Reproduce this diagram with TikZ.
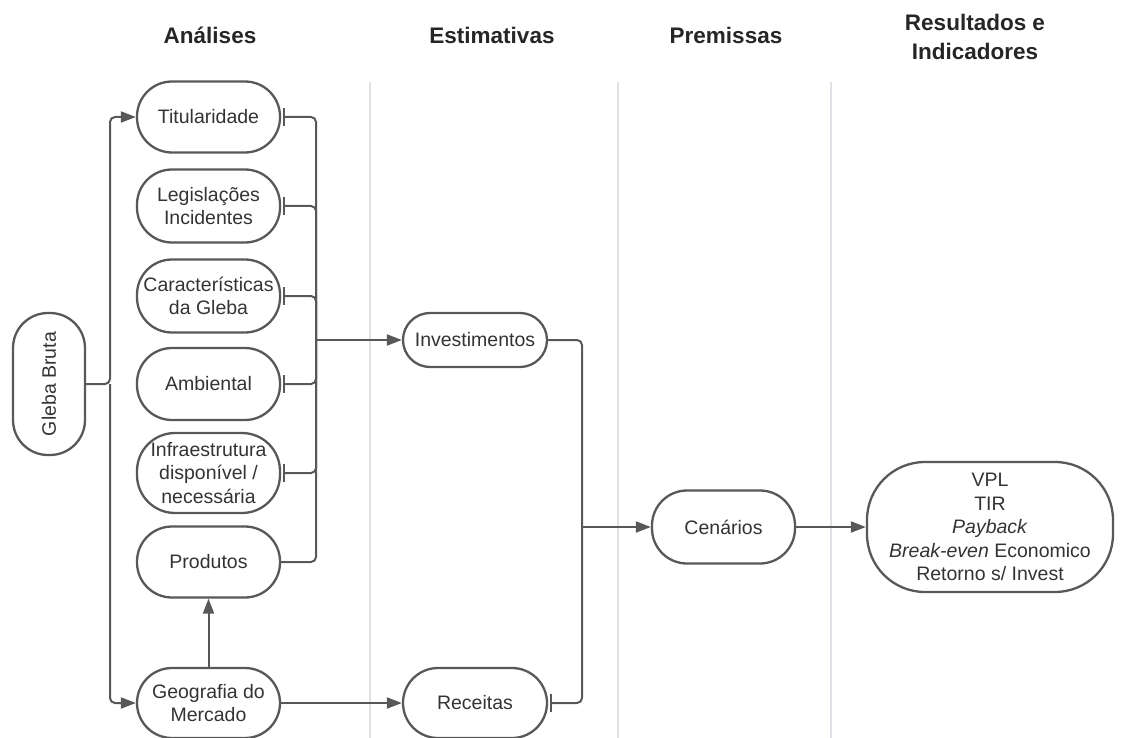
\documentclass[tikz,border=0pt]{standalone}
\usepackage{fontspec}
\setmainfont{Liberation Sans}
\usetikzlibrary{arrows.meta}
\definecolor{linegray}{HTML}{585858}
\definecolor{textgray}{HTML}{333333}
\definecolor{sepcol}{HTML}{DFE1E6}
\tikzset{
  box/.style={draw=linegray, line width=2.3pt, text=textgray, align=center,
    inner sep=1pt, minimum width=143pt, minimum height=71pt, rounded corners=35pt,
    font=\fontsize{19.5}{23.5}\selectfont},
  smallbox/.style={box, minimum height=54pt, rounded corners=27pt},
  hdr/.style={text=black!85, align=center, font=\fontsize{22.5}{29}\selectfont\bfseries},
  conn/.style={draw=linegray, line width=2pt, rounded corners=5pt},
  arr/.style={conn, -{Triangle[length=15pt,width=11pt]}},
  barred/.style={conn, {Bar[width=18pt]}-, shorten <=2pt},
  sepline/.style={draw=sepcol, line width=2.5pt}
}
\begin{document}
\begin{tikzpicture}[x=1pt,y=-1pt]
\useasboundingbox (0,0) rectangle (1140,738);
% separators
\draw[sepline] (370,82) -- (370,738);
\draw[sepline] (618,82) -- (618,738);
\draw[sepline] (831,82) -- (831,738);
% headers
\node[hdr] (h1) at (210,35) {Análises};
\node[hdr] (h2) at (492,35) {Estimativas};
\node[hdr] (h3) at (726,35) {Premissas};
\node[hdr] (h4) at (975,37) {Resultados e\\Indicadores};
% nodes
\node[box, minimum width=72pt, minimum height=142pt, rounded corners=35pt] (gleba) at (49,384) {\rotatebox{90}{Gleba Bruta}};
\node[box] (tit) at (208.5,117) {Titularidade};
\node[box, minimum height=73pt] (leg) at (208.5,206) {Legislações\\Incidentes};
\node[box, minimum height=73pt] (car) at (208.5,296) {Características\\da Gleba};
\node[box, minimum height=72pt] (amb) at (208.5,384) {Ambiental};
\node[box, minimum height=80pt, rounded corners=38pt] (inf) at (208.5,473) {Infraestrutura\\disponível /\\necessária};
\node[box] (prod) at (208.5,562) {Produtos};
\node[box, minimum height=70pt] (geo) at (208.5,703) {Geografia do\\Mercado};
\node[smallbox, minimum width=144pt] (inv) at (475,340) {Investimentos};
\node[box, minimum width=144pt, minimum height=70pt] (rec) at (475,703) {Receitas};
\node[box, minimum height=73pt] (cen) at (723.5,527) {Cenários};
\node[box, minimum width=246pt, minimum height=130pt, rounded corners=58pt] (res) at (990,527)
  {VPL\\TIR\\\textit{Payback}\\\textit{Break-even} Economico\\Retorno s/ Invest};
% connectors
\coordinate (gj) at (110,384);
\coordinate (aj) at (316,340);
\coordinate (ej) at (582,527);
\draw[arr] (gleba.east) -- (gj) |- (tit.west);
\draw[arr] (gj) |- (geo.west);
\draw[barred] (tit.east) -| (aj);
\draw[barred] (leg.east) -| (aj);
\draw[barred] (car.east) -| (aj);
\draw[barred] (amb.east) -| (aj);
\draw[barred] (inf.east) -| (aj);
\draw[conn] (prod.east) -| (aj);
\draw[arr] (aj) -- (inv.west);
\draw[arr] (geo.north) -- (prod.south);
\draw[arr] (geo.east) -- (rec.west);
\draw[conn] (inv.east) -| (ej);
\draw[barred] (rec.east) -| (ej);
\draw[arr] (ej) -- (cen.west);
\draw[arr] (cen.east) -- (res.west);
\end{tikzpicture}
\end{document}
